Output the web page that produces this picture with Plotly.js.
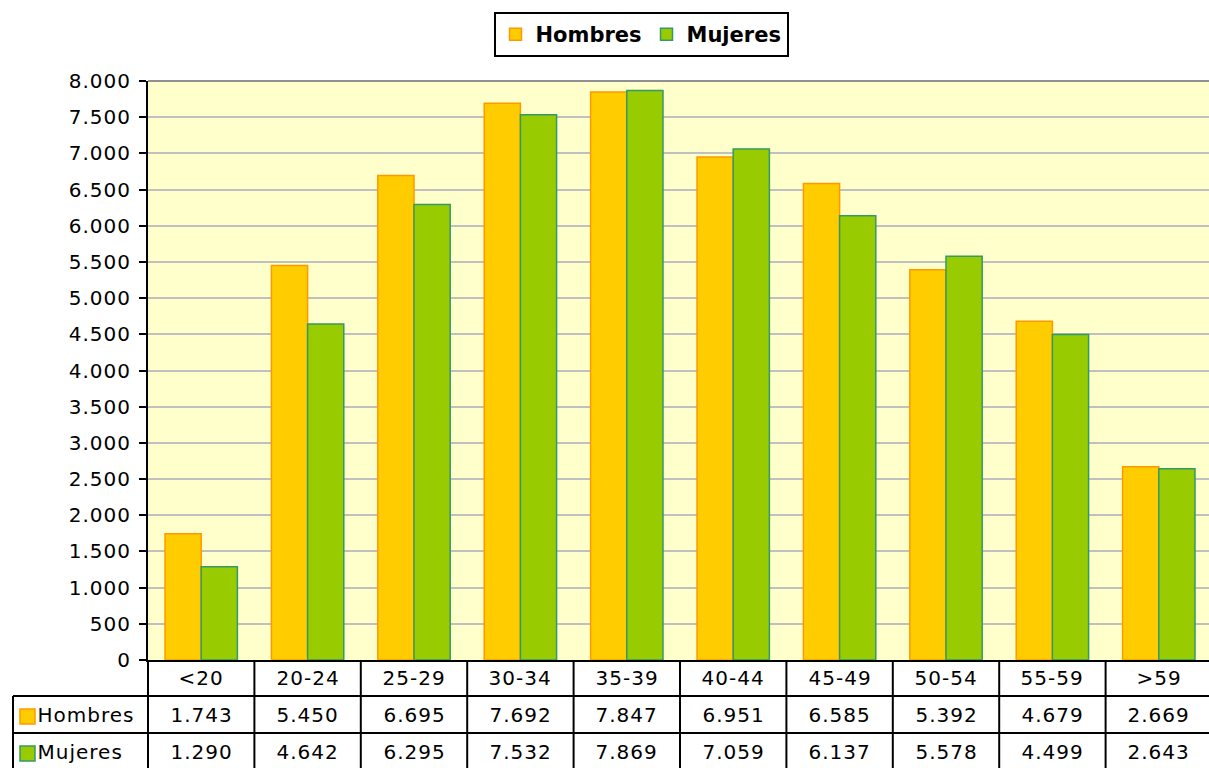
<!DOCTYPE html>
<html>
<head>
<meta charset="utf-8">
<script src="https://cdn.plot.ly/plotly-3.0.1.min.js"></script>
<style>
html,body{margin:0;padding:0;background:#fff;overflow:hidden;}
#chart{width:1212px;height:768px;}
#chart text{letter-spacing:1px;}
#chart .legend text{letter-spacing:0px;}
</style>
</head>
<body>
<div id="chart"></div>
<script>
var categories = ['<20','20-24','25-29','30-34','35-39','40-44','45-49','50-54','55-59','>59'];
var hombres = [1743, 5450, 6695, 7692, 7847, 6951, 6585, 5392, 4679, 2669];
var mujeres = [1290, 4642, 6295, 7532, 7869, 7059, 6137, 5578, 4499, 2643];
var seriesNames = ['Hombres', 'Mujeres'];
var yTicks = [0,500,1000,1500,2000,2500,3000,3500,4000,4500,5000,5500,6000,6500,7000,7500,8000];

var FONT = 'Verdana, "DejaVu Sans", sans-serif';
var W = 1212, H = 768;
var mL = 148, mR = 0, mT = 81, mB = 108;
var plotH = H - mT - mB, plotW = W - mL - mR;
function py(p){ return (H - mB - p) / plotH; }   // pixel y -> paper y
function px(p){ return (p - mL) / plotW; }       // pixel x -> paper x

var fillColors = ['#FFCC00', '#99CC00'];
var lineColors = ['#FF9900', '#339966'];

var traces = [
  {type:'bar', name:seriesNames[0], x:categories, y:hombres,
   marker:{color:fillColors[0], line:{color:lineColors[0], width:1.5}}, hoverinfo:'x+y'},
  {type:'bar', name:seriesNames[1], x:categories, y:mujeres,
   marker:{color:fillColors[1], line:{color:lineColors[1], width:1.5}}, hoverinfo:'x+y'}
];

function fmt(v){ return String(v).replace(/\B(?=(\d{3})+(?!\d))/g, '.'); }

var shapes = [];
var annotations = [];
var row1Top = py(660), row2Top = py(696), row3Top = py(733), row3Bot = py(770);
var lineStyle = {color:'#000000', width:2};
shapes.push({type:'line', xref:'paper', yref:'paper', x0:px(13), x1:1, y0:row2Top, y1:row2Top, line:lineStyle});
shapes.push({type:'line', xref:'paper', yref:'paper', x0:px(13), x1:1, y0:row3Top, y1:row3Top, line:lineStyle});
shapes.push({type:'line', xref:'paper', yref:'paper', x0:px(13), x1:px(13), y0:row2Top, y1:row3Bot, line:lineStyle});
shapes.push({type:'line', xref:'paper', yref:'paper', x0:0, x1:0, y0:row1Top, y1:row3Bot, line:lineStyle});
for (var i = 1; i < categories.length; i++) {
  shapes.push({type:'line', xref:'x', yref:'paper', x0:i-0.5, x1:i-0.5, y0:row1Top, y1:row3Bot, line:lineStyle});
}
shapes.push({type:'line', xref:'paper', yref:'paper', x0:0, x1:1, y0:1, y1:1, line:{color:'#909090', width:2}});

var tableFont = {family:FONT, size:20, color:'#000000'};
var rowY = [py(678), py(715), py(752)];
var seriesVals = [hombres, mujeres];
for (var c = 0; c < categories.length; c++) {
  annotations.push({xref:'x', yref:'paper', x:c, y:rowY[0], text:categories[c].replace('<','&lt;').replace('>','&gt;'), showarrow:false, font:tableFont, xanchor:'center', yanchor:'middle'});
  for (var s = 0; s < 2; s++) {
    annotations.push({xref:'x', yref:'paper', x:c, y:rowY[s+1], text:fmt(seriesVals[s][c]), showarrow:false, font:tableFont, xanchor:'center', yanchor:'middle'});
  }
}
for (var s = 0; s < 2; s++) {
  shapes.push({type:'rect', xref:'paper', yref:'paper', x0:px(20), x1:px(35), y0:py(s===0?724:761), y1:py(s===0?709:746),
    fillcolor:fillColors[s], line:{color:lineColors[s], width:1.5}});
  annotations.push({xref:'paper', yref:'paper', x:px(39), y:rowY[s+1], text:seriesNames[s], showarrow:false, font:tableFont, xanchor:'left', yanchor:'middle'});
}

var layout = {
  width:W, height:H,
  margin:{l:mL, r:mR, t:mT, b:mB, pad:0},
  paper_bgcolor:'#ffffff',
  plot_bgcolor:'#FFFFCC',
  separators:',.',
  barmode:'group',
  bargap:0.32,
  bargroupgap:0,
  font:{family:FONT, size:20, color:'#000000'},
  showlegend:true,
  legend:{orientation:'h', x:px(641), xanchor:'center', y:py(12), yanchor:'top',
    bgcolor:'#ffffff', bordercolor:'#000000', borderwidth:2,
    font:{family:FONT, size:21, color:'#000000', weight:'bold'},
    itemwidth:30, traceorder:'normal'},
  xaxis:{type:'category', range:[-0.5, categories.length-0.5], showticklabels:false, ticks:'',
    showline:true, linecolor:'#000000', linewidth:2, showgrid:false, zeroline:false, fixedrange:true},
  yaxis:{range:[0,8000], tickvals:yTicks, tickformat:',d', ticks:'outside', ticklen:7, tickwidth:2, tickcolor:'#000000',
    showline:true, linecolor:'#000000', linewidth:2, showgrid:true, gridcolor:'#C0C0C0', gridwidth:2,
    zeroline:false, ticklabelstandoff:4, tickfont:{family:FONT, size:20, color:'#000000'}, fixedrange:true},
  shapes:shapes,
  annotations:annotations
};

Plotly.newPlot('chart', traces, layout, {displayModeBar:false, staticPlot:true});
</script>
</body>
</html>
